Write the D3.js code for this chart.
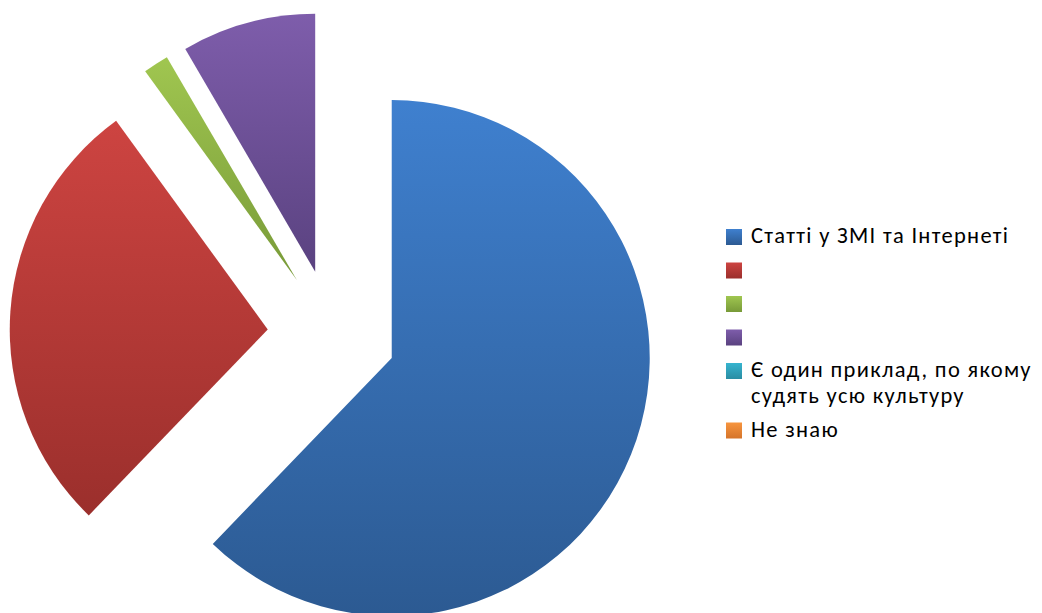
<!DOCTYPE html>
<html>
<head>
<meta charset="utf-8">
<script src="https://cdn.jsdelivr.net/npm/d3@7"></script>
<style>
  html, body { margin: 0; padding: 0; background: #ffffff; }
  svg { display: block; }
</style>
</head>
<body>
<svg id="chart" width="1042" height="613"></svg>
<script>
// Source categories (legend order) and their shares, in percent
const categories = [
  "Статті у ЗМІ та Інтернеті",
  "",
  "",
  "",
  "Є один приклад, по якому\nсудять усю культуру",
  "Не знаю"
];
const values = [62.2, 27.8, 1.6, 8.4, 0, 0];

// Top and bottom colour of each slice's vertical gradient
const topColors    = ["#3f80cf", "#cd4441", "#a0c650", "#7e5dab", "#36b4cf", "#f7953f"];
const bottomColors = ["#2c5a92", "#9b2f2c", "#789a38", "#5a4280", "#2a8da3", "#d5742a"];

const svg = d3.select("#chart");
const defs = svg.append("defs");

categories.forEach((c, i) => {
  const g = defs.append("linearGradient")
    .attr("id", "grad" + i)
    .attr("x1", 0).attr("y1", 0).attr("x2", 0).attr("y2", 1);
  g.append("stop").attr("offset", "0%").attr("stop-color", topColors[i]);
  g.append("stop").attr("offset", "100%").attr("stop-color", bottomColors[i]);
});

const data = categories.map((c, i) => ({ name: c, value: values[i], index: i }));

const cx = 332, cy = 334;
const radius = 258;
const explode = 64.4;

const pie = d3.pie().sort(null).value(d => d.value).startAngle(0).endAngle(2 * Math.PI);
const arc = d3.arc().innerRadius(0).outerRadius(radius);

const pieG = svg.append("g").attr("transform", `translate(${cx},${cy})`);

// Every slice is pulled out from the centre along its mid-angle
pieG.selectAll("path.slice")
  .data(pie(data).filter(d => d.data.value > 0))
  .join("path")
  .attr("class", "slice")
  .attr("d", arc)
  .attr("fill", d => `url(#grad${d.data.index})`)
  .attr("transform", d => {
    const mid = (d.startAngle + d.endAngle) / 2;
    return `translate(${explode * Math.sin(mid)},${-explode * Math.cos(mid)})`;
  });

// Legend
const legend = svg.append("g").attr("transform", "translate(726,229)");
const swatch = 16;
const lineH = 26;
const rowGap = 33.5;
let y = 0;
data.forEach((d, i) => {
  const row = legend.append("g").attr("transform", `translate(0,${y})`);
  row.append("rect")
    .attr("width", swatch).attr("height", swatch)
    .attr("fill", `url(#grad${i})`);
  const lines = d.name ? d.name.split("\n") : [];
  const t = row.append("text")
    .attr("x", 25).attr("y", 14)
    .attr("font-family", "Carlito, Calibri, 'Liberation Sans', sans-serif")
    .attr("font-size", 22.5)
    .attr("letter-spacing", 1.3)
    .attr("fill", "#000");
  lines.forEach((ln, k) => {
    t.append("tspan").attr("x", 25).attr("dy", k === 0 ? 0 : lineH).text(ln);
  });
  y += rowGap + Math.max(0, lines.length - 1) * lineH;
});
</script>
</body>
</html>
